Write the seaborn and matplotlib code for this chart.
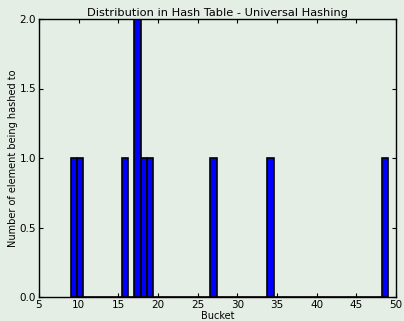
import matplotlib
matplotlib.use("Agg")
import matplotlib.pyplot as plt
import seaborn as sns
import pandas as pd

# bucket each key was hashed to
buckets = [9, 10, 16, 17, 17, 18, 19, 27, 34, 49]
x_ticks = [5, 10, 15, 20, 25, 30, 35, 40, 45, 50]
y_ticks = [0.0, 0.5, 1.0, 1.5, 2.0]

sns.set_theme(style="ticks")
plt.rcParams['font.family'] = ['DejaVu Sans']
plt.rcParams['text.color'] = 'black'
plt.rcParams['axes.labelcolor'] = 'black'
bg = '#e5eee5'

df = pd.DataFrame({'bucket': buckets})
fig, ax = plt.subplots(figsize=(4.04, 3.21), dpi=100)
fig.patch.set_facecolor(bg)
ax.set_facecolor(bg)

sns.histplot(data=df, x='bucket', bins=50, binrange=(9, 49), ax=ax,
             color='blue', edgecolor='black', alpha=1)
# seaborn thins the edges of narrow bars, put them back
for p in ax.patches:
    p.set_linewidth(1.2)
    p.set_edgecolor('black')

ax.set_xlim(5, 50)
ax.set_ylim(0, 2)
ax.set_xticks(x_ticks)
ax.set_yticks(y_ticks)
ax.set_yticklabels([f'{v:.1f}' for v in y_ticks])
ax.tick_params(direction='in', top=True, right=True, labelsize=7.5, length=3, width=0.8,
               colors='black', pad=2)
for s in ax.spines.values():
    s.set_visible(True)
    s.set_color('black')
    s.set_linewidth(1)

ax.set_title('Distribution in Hash Table - Universal Hashing', fontsize=8.2, pad=2)
ax.set_xlabel('Bucket', fontsize=7, labelpad=1)
ax.set_ylabel('Number of element being hashed to', fontsize=7, labelpad=1)

fig.subplots_adjust(left=39/404, right=396/404, top=1-19/321, bottom=1-297/321)
fig.savefig('out.png', dpi=100, facecolor=bg)
